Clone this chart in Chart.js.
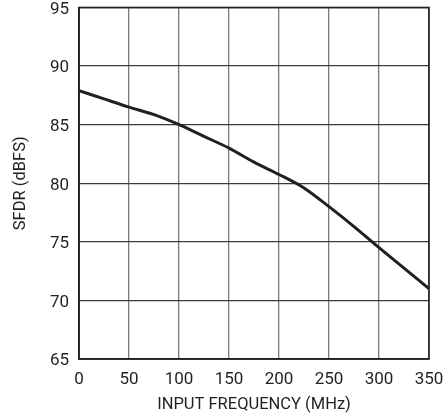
<!DOCTYPE html>
<html>
<head>
<meta charset="utf-8">
<script src="https://cdn.jsdelivr.net/npm/chart.js@4"></script>
<style>
html,body{margin:0;padding:0;background:#fff;}
#wrap{width:444px;height:419px;}
</style>
</head>
<body>
<div id="wrap"><canvas id="c" width="444" height="419"></canvas></div>
<script>
const freqMHz = [0, 25, 50, 75, 100, 125, 150, 175, 200, 225, 250, 275, 300, 325, 350];
const sfdrDBFS = [87.9, 87.2, 86.5, 85.85, 85.0, 84.0, 83.0, 81.8, 80.75, 79.6, 78.0, 76.3, 74.5, 72.75, 71.0];
const xTicks = [0, 50, 100, 150, 200, 250, 300, 350];
const yTicks = [65, 70, 75, 80, 85, 90, 95];

const FONT = "'Liberation Sans Narrow', 'Roboto', 'Liberation Sans', sans-serif";

new Chart(document.getElementById('c'), {
  type: 'line',
  data: {
    datasets: [{
      data: freqMHz.map((x, i) => ({x: x, y: sfdrDBFS[i]})),
      borderColor: '#231f20',
      borderWidth: 3,
      pointRadius: 0,
      tension: 0.3,
      fill: false
    }]
  },
  options: {
    responsive: false,
    animation: false,
    devicePixelRatio: 1,
    layout: {padding: {top: 7.5, right: 15, left: 0, bottom: 0}},
    plugins: {legend: {display: false}, tooltip: {enabled: false}},
    scales: {
      x: {
        type: 'linear',
        min: 0, max: 350,
        afterBuildTicks: (s) => { s.ticks = xTicks.map(v => ({value: v})); },
        afterFit: (s) => { s.height = 60; s.paddingLeft = 0; s.paddingRight = 0; },
        ticks: {color: '#231f20', font: {family: FONT, size: 17}, padding: 11, maxRotation: 0},
        grid: {color: '#7a7a7a', lineWidth: 1.3, drawTicks: false},
        border: {color: '#231f20', width: 1.6},
        title: {display: true, text: 'INPUT FREQUENCY (MHz)', color: '#231f20', font: {family: FONT, size: 16.5}, padding: {top: 4, bottom: 4}}
      },
      y: {
        type: 'linear',
        min: 65, max: 95,
        afterBuildTicks: (s) => { s.ticks = yTicks.map(v => ({value: v})); },
        afterFit: (s) => { s.width = 79; s.paddingTop = 0; s.paddingBottom = 0; },
        ticks: {color: '#231f20', font: {family: FONT, size: 17}, padding: 10, labelOffset: 2},
        grid: {color: '#3a3a3a', lineWidth: 1.3, drawTicks: false},
        border: {color: '#231f20', width: 1.6},
        title: {display: true, text: 'SFDR (dBFS)', color: '#231f20', font: {family: FONT, size: 16.5}, padding: {top: 11, bottom: 0}}
      }
    }
  },
  plugins: [{
    id: 'frame',
    afterDraw(chart) {
      const a = chart.chartArea, ctx = chart.ctx;
      ctx.save();
      ctx.strokeStyle = '#231f20';
      ctx.lineWidth = 1.6;
      ctx.strokeRect(a.left, a.top, a.right - a.left, a.bottom - a.top);
      ctx.restore();
    }
  }]
});
</script>
</body>
</html>
